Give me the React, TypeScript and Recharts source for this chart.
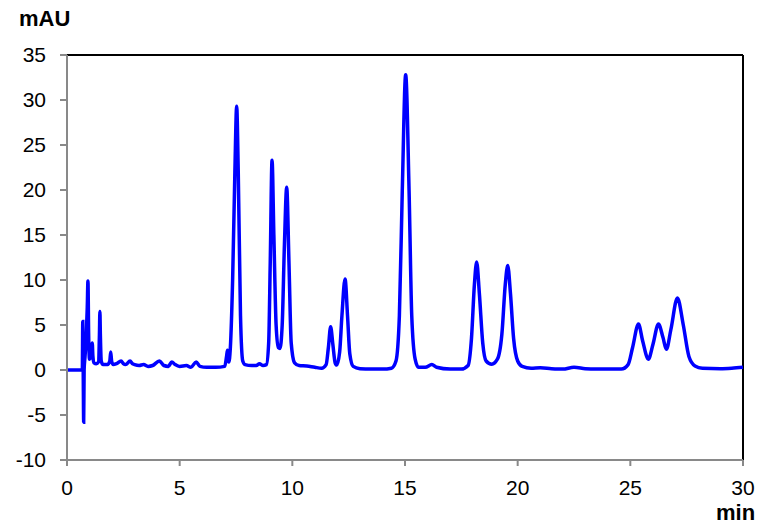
import React from 'react'
import { LineChart, Line, XAxis, YAxis, ReferenceLine } from 'recharts'

// retention time (min) and absorbance (mAU)
const times = [
  0, 0.5, 0.68, 0.7, 0.72, 0.74, 0.76, 0.8, 0.85, 0.9, 0.93, 0.96, 1.0, 1.05, 1.1, 1.12, 1.15, 1.2, 1.3, 1.4,
  1.44, 1.46, 1.48, 1.52, 1.6, 1.7, 1.8, 1.9, 1.94, 1.98, 2.05, 2.2, 2.4, 2.5, 2.6, 2.8, 2.9, 3.0, 3.2, 3.4,
  3.6, 3.8, 4.1, 4.3, 4.5, 4.65, 4.8, 5.0, 5.3, 5.5, 5.73, 5.9, 6.2, 6.6, 7.0, 7.08, 7.12, 7.18, 7.25, 7.35,
  7.45, 7.53, 7.6, 7.7, 7.8, 7.9, 8.2, 8.4, 8.54, 8.7, 8.85, 8.95, 9.02, 9.1, 9.18, 9.28, 9.38, 9.45, 9.55, 9.65,
  9.75, 9.85, 9.95, 10.1, 10.3, 10.64, 11.0, 11.3, 11.5, 11.6, 11.7, 11.8, 11.9, 11.97, 12.1, 12.2, 12.34, 12.45, 12.55, 12.7,
  13.0, 13.5, 14.0, 14.4, 14.6, 14.75, 14.88, 15.03, 15.18, 15.3, 15.45, 15.6, 15.9, 16.19, 16.4, 17.0, 17.5, 17.8, 17.95, 18.08,
  18.18, 18.3, 18.45, 18.6, 18.85, 19.1, 19.3, 19.45, 19.56, 19.68, 19.82, 20.0, 20.2, 20.6, 21.0, 21.5, 22.0, 22.5, 23.0, 23.5,
  24.0, 24.6, 24.9, 25.1, 25.36, 25.55, 25.8, 26.0, 26.25, 26.45, 26.6, 26.8, 27.09, 27.35, 27.6, 27.87, 28.2, 29.0, 29.5, 30.0,
]
const absorbance = [
  0, 0, 0, 5.4, 0, -5.8, 0, 1.5, 3.5, 7, 9.9, 4, 1.2, 1.5, 2.6, 3.0, 1.5, 0.8, 0.7, 0.9,
  4, 6.5, 4, 1.0, 0.6, 0.6, 0.6, 1.0, 2.0, 1.0, 0.6, 0.7, 1.0, 0.7, 0.6, 1.0, 0.7, 0.6, 0.5, 0.6,
  0.4, 0.5, 1.0, 0.5, 0.4, 0.9, 0.6, 0.4, 0.5, 0.3, 0.9, 0.4, 0.3, 0.3, 0.4, 1.5, 2.2, 0.9, 2.5, 10,
  22, 29.3, 22, 6, 1.0, 0.6, 0.5, 0.5, 0.7, 0.5, 0.6, 3, 12, 23.3, 15, 5, 2.5, 2.4, 5, 14,
  20.3, 12, 3, 0.8, 0.5, 0.45, 0.3, 0.2, 0.6, 2.5, 4.8, 2.8, 0.8, 0.55, 2.0, 6, 10.1, 6, 1.8, 0.4,
  0.15, 0.1, 0.1, 0.2, 1.0, 6, 20, 32.8, 20, 6, 1.2, 0.3, 0.3, 0.6, 0.3, 0.1, 0.1, 0.5, 3.5, 9.5,
  12.0, 8.5, 3, 1.0, 0.65, 1.2, 4, 9.5, 11.6, 8.5, 3.5, 1.0, 0.4, 0.2, 0.25, 0.15, 0.1, 0.3, 0.15, 0.1,
  0.1, 0.1, 0.6, 2.5, 5.1, 3.2, 1.2, 2.8, 5.1, 3.6, 2.3, 4.5, 8.0, 5, 1.5, 0.45, 0.2, 0.15, 0.2, 0.3,
]
const xTicks = [0, 5, 10, 15, 20, 25, 30]
const yTicks = [-10, -5, 0, 5, 10, 15, 20, 25, 30, 35]

const data = times.map((t, i) => ({ t, mAU: absorbance[i] }))

const font = '"Liberation Sans", Arial, sans-serif'
const axisGray = '#898989'

export default function App() {
  return (
    <div style={{ position: 'absolute', left: 0, top: 0, width: 766, height: 531, background: '#fff', fontFamily: font }}>
      <LineChart width={766} height={531} data={data} margin={{ top: 55, right: 23, left: 7, bottom: 41 }}>
        <XAxis
          dataKey="t"
          type="number"
          domain={[0, 30]}
          ticks={xTicks}
          interval={0}
          height={30}
          stroke={axisGray}
          strokeWidth={2}
          tickSize={6}
          tickMargin={14}
          tick={{ fill: '#000', fontSize: 21, fontFamily: font }}
        />
        <YAxis
          type="number"
          domain={[-10, 35]}
          ticks={yTicks}
          interval={0}
          width={60}
          stroke={axisGray}
          strokeWidth={2}
          tickSize={7}
          tickMargin={14}
          tick={{ fill: '#000', fontSize: 21, fontFamily: font }}
        />
        <ReferenceLine y={35} stroke="#000" strokeWidth={2} />
        <ReferenceLine x={30} stroke="#000" strokeWidth={2} />
        <Line
          dataKey="mAU"
          type="monotone"
          stroke="#0000ff"
          strokeWidth={3.5}
          dot={false}
          isAnimationActive={false}
        />
      </LineChart>
      <div style={{ position: 'absolute', left: 19, top: 8, fontSize: 22, fontWeight: 'bold', lineHeight: 1 }}>mAU</div>
      <div style={{ position: 'absolute', left: 716, top: 502, fontSize: 22, fontWeight: 'bold', lineHeight: 1 }}>min</div>
    </div>
  )
}
